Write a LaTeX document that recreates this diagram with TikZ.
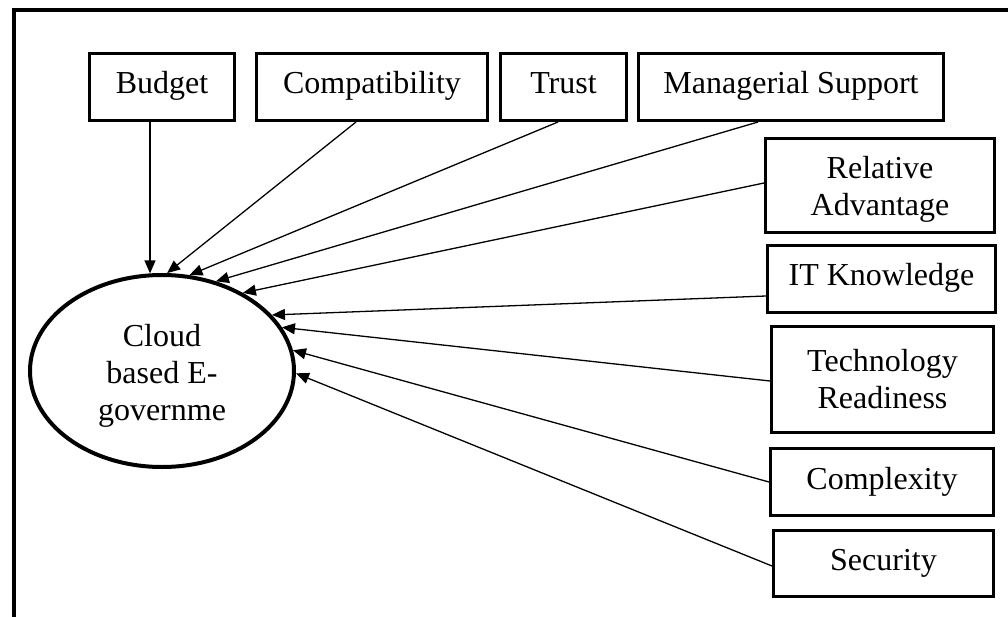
\documentclass[tikz,border=0pt]{standalone}
\usepackage{fontspec}
\setmainfont{Liberation Serif}
\usetikzlibrary{arrows.meta,shapes.geometric}
\begin{document}
\begin{tikzpicture}[x=1pt,y=-1pt,
  factor/.style={draw,line width=3pt,rectangle,inner sep=0pt,align=center,
    font=\fontsize{32}{37}\selectfont},
  oneline/.style={text height=22pt,text depth=8pt},
  outcome/.style={draw,line width=4pt,ellipse,inner sep=0pt,align=center,
    font=\fontsize{32}{37}\selectfont,minimum width=264pt,minimum height=192pt},
  link/.style={line width=1.3pt,-{Triangle[length=13pt,width=11pt]}}]
\useasboundingbox (0,0) rectangle (1008,617);
\clip (0,0) rectangle (1008,617);
% outer frame, running off the page on the right and at the bottom
\draw[line width=4pt] (14,10) rectangle (1040,660);

% outcome
\node[outcome] (cloud) at (162,371) {\rule{0pt}{32pt}Cloud\\based E-\\governme};

% factors along the top
\node[factor,oneline,minimum width=145pt,minimum height=67pt] (budget) at (162,87) {Budget};
\node[factor,oneline,minimum width=231pt,minimum height=67pt] (compat) at (372,87) {Compatibility};
\node[factor,oneline,minimum width=126pt,minimum height=67pt] (trust) at (563.5,87) {Trust};
\node[factor,oneline,minimum width=305pt,minimum height=67pt] (manag) at (791,87) {Managerial Support};

% factors down the right side
\node[factor,minimum width=229pt,minimum height=94pt] (reladv) at (880,185.5) {\rule{0pt}{30pt}Relative\\Advantage};
\node[factor,oneline,minimum width=228pt,minimum height=67pt] (itk) at (881.5,279) {IT Knowledge};
\node[factor,minimum width=222pt,minimum height=106pt] (tech) at (882.5,379.5) {Technology\\Readiness};
\node[factor,oneline,minimum width=223pt,minimum height=67pt] (cplx) at (882,482) {Complexity};
\node[factor,oneline,minimum width=220pt,minimum height=66pt] (sec) at (883.5,563.5) {Security};

% influences
\draw[link] (cloud.97.6 |- budget.south) -- (cloud.97.6);
\draw[link] ([xshift=-16pt]compat.south) -- (cloud.87);
\draw[link] ([xshift=-5.5pt]trust.south) -- (cloud.74.7);
\draw[link] ([xshift=-33pt]manag.south) -- (cloud.59.8);
\draw[link] ([yshift=2.5pt]reladv.west) -- (cloud.44.3);
\draw[link] ([yshift=-17pt]itk.west) -- (cloud.27.8);
\draw[link] ([yshift=-1.5pt]tech.west) -- (cloud.20.5);
\draw[link] (cplx.west) -- (cloud.9);
\draw[link] ([yshift=-2.5pt]sec.west) -- (cloud.-1.7);
\end{tikzpicture}
\end{document}
